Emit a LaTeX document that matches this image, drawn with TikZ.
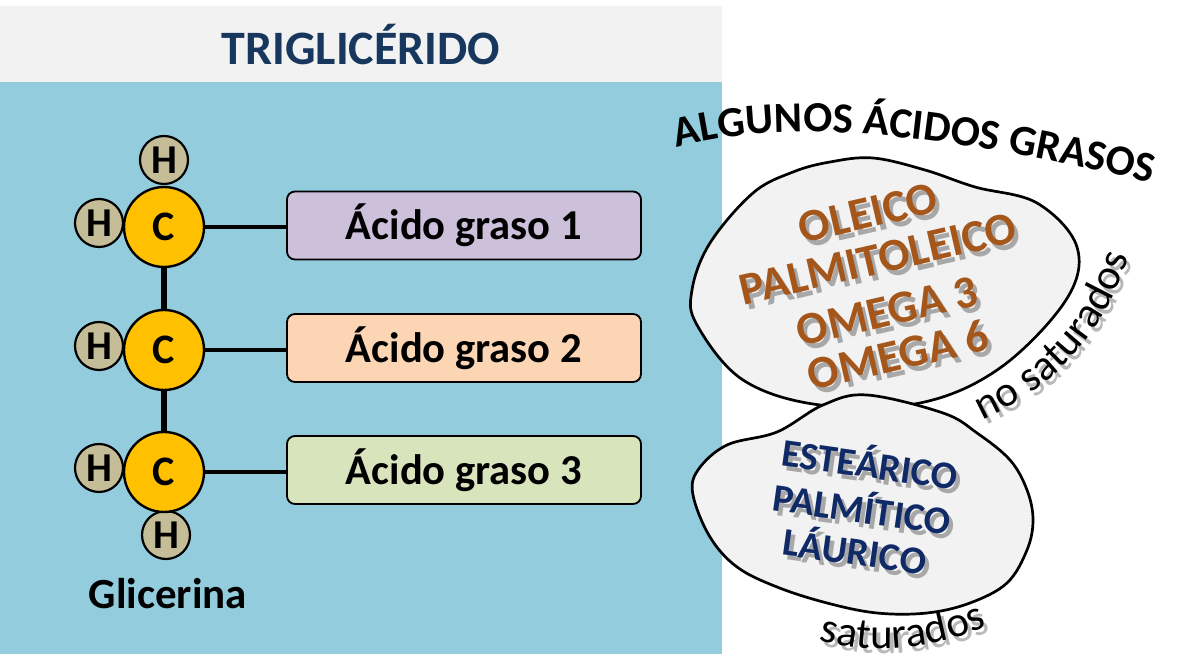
\documentclass[tikz,border=0pt]{standalone}
\usepackage{fontspec}
\setmainfont{Carlito}
\usetikzlibrary{decorations.text}
\definecolor{band}{HTML}{F2F2F2}
\definecolor{panel}{HTML}{93CDDD}
\definecolor{carbon}{HTML}{FFC000}
\definecolor{hyd}{HTML}{C4BD97}
\definecolor{titleblue}{HTML}{17375E}
\definecolor{brownt}{HTML}{A5561B}
\definecolor{navyt}{HTML}{0F2A66}
\definecolor{blob}{HTML}{F2F2F2}
\definecolor{acidA}{HTML}{CCC0DA}
\definecolor{acidB}{HTML}{FCD5B5}
\definecolor{acidC}{HTML}{D8E4BC}
\newcommand{\fsz}[1]{\fontsize{#1}{#1}\selectfont}
\newcommand{\blobA}{(873,158) (925,170) (975,187) (1037,203) (1077,247) (1066,300) (1000,368) (920,403) (820,405) (743,380) (697,325) (692,290) (710,243) (753,193) (793,172) (830,162)}
\newcommand{\blobB}{(823,405) (867,395) (943,413) (977,433) (1010,460) (1027,490) (1033,520) (1027,550) (1007,583) (970,603) (927,613) (877,613) (827,603) (777,587) (737,567) (710,537) (693,495) (698,470) (727,445) (777,432)}
\tikzset{
  x=.5pt,y=-.5pt,
  carb/.style={circle,draw=black,line width=1.2pt,fill=carbon,minimum size=40pt,inner sep=0pt,font=\fsz{21}\bfseries},
  hatom/.style={circle,draw=black,line width=1.1pt,fill=hyd,minimum size=24pt,inner sep=0pt,font=\fsz{20.5}\bfseries},
  acid/.style={draw=black,line width=.9pt,rounded corners=4pt,minimum width=177pt,minimum height=34pt,inner sep=0pt,font=\fsz{21.3}\bfseries},
  bondv/.style={line width=2.7pt,black},
  bondh/.style={line width=1.7pt,black},
  blobshape/.style={draw=black,line width=1.35pt,fill=blob},
  brownlabel/.style={font=\fsz{23}\bfseries,text=brownt,inner sep=0pt,rotate=13},
  navylabel/.style={font=\fsz{19.5}\bfseries,text=navyt,inner sep=0pt,rotate=-8,text height=15pt,text depth=0pt},
  shadowlabel/.style={text=black,opacity=.3},
}
\newcommand{\shadowtext}[4]{% style, x, y, text
  \node[#1,shadowlabel] at (#2+4,#3+5) {#4};
}
\begin{document}
\begin{tikzpicture}
\useasboundingbox (0,0) rectangle (1200,667);
\fill[white] (0,0) rectangle (1200,667);
\fill[band] (0,6) rectangle (722,82);
\fill[panel] (0,82) rectangle (722,654);

\node[font=\fsz{24}\bfseries,text=titleblue,inner sep=0pt] (title) at (361,45) {TRIGLICÉRIDO};

% molecule
\node[hatom] (h1) at (164,160) {H};
\node[hatom] (h2) at (99,223) {H};
\node[hatom] (h3) at (99,346) {H};
\node[hatom] (h4) at (99,468) {H};
\node[hatom] (h5) at (166,535) {H};
\node[carb] (c1) at (164,227) {C};
\node[carb] (c2) at (164,350) {C};
\node[carb] (c3) at (164,472) {C};
\node[acid,fill=acidA] (b1) at (464,225.5) {Ácido graso 1};
\node[acid,fill=acidB] (b2) at (464,348) {Ácido graso 2};
\node[acid,fill=acidC] (b3) at (464,470) {Ácido graso 3};
\draw[bondv] (c1) -- (c2);
\draw[bondv] (c2) -- (c3);
\draw[bondh] (c1.east) -- (c1.east -| b1.west);
\draw[bondh] (c2.east) -- (c2.east -| b2.west);
\draw[bondh] (c3.east) -- (c3.east -| b3.west);
\node[font=\fsz{21.5}\bfseries,inner sep=0pt] (glic) at (168,594) {Glicerina};

% heading on a curve
\path[decorate,decoration={text along path,text align=center,
  text={|\fsz{21.5}\bfseries|ALGUNOS ÁCIDOS GRASOS}}]
  (668,150) .. controls (760,122) and (900,122) .. (1160,185);

% blobs
\path[blobshape] plot[smooth cycle,tension=.6] coordinates {\blobA};
\path[blobshape] plot[smooth cycle,tension=.6] coordinates {\blobB};

% unsaturated list
\shadowtext{brownlabel}{868}{213}{OLEICO}
\shadowtext{brownlabel}{878}{259}{PALMITOLEICO}
\shadowtext{brownlabel}{887}{311}{OMEGA 3}
\shadowtext{brownlabel}{898}{355}{OMEGA 6}
\node[brownlabel] (oleico) at (868,213) {OLEICO};
\node[brownlabel] (palmitoleico) at (878,259) {PALMITOLEICO};
\node[brownlabel] (omega3) at (887,311) {OMEGA 3};
\node[brownlabel] (omega6) at (898,355) {OMEGA 6};

% saturated list
\shadowtext{navylabel}{870}{463}{ESTEÁRICO}
\shadowtext{navylabel}{862}{508}{PALMÍTICO}
\shadowtext{navylabel}{855}{550}{LÁURICO}
\node[navylabel] (estearico) at (870,463) {ESTEÁRICO};
\node[navylabel] (palmitico) at (862,508) {PALMÍTICO};
\node[navylabel] (laurico) at (855,550) {LÁURICO};

% curved labels
\begin{scope}[opacity=.28,shift={(4,5)}]
\path[decorate,decoration={text along path,text align=center,
  text={|\fsz{21.5}|no saturados}}]
  (972,425) .. controls (1050,392) and (1105,340) .. (1132,245);
\path[decorate,decoration={text along path,text align=center,
  text={|\fsz{21.5}|saturados}}]
  (812,638) .. controls (870,656) and (930,652) .. (994,624);
\end{scope}
\path[decorate,decoration={text along path,text align=center,
  text={|\fsz{21.5}|no saturados}}]
  (972,425) .. controls (1050,392) and (1105,340) .. (1132,245);
\path[decorate,decoration={text along path,text align=center,
  text={|\fsz{21.5}|saturados}}]
  (812,638) .. controls (870,656) and (930,652) .. (994,624);
\end{tikzpicture}
\end{document}
